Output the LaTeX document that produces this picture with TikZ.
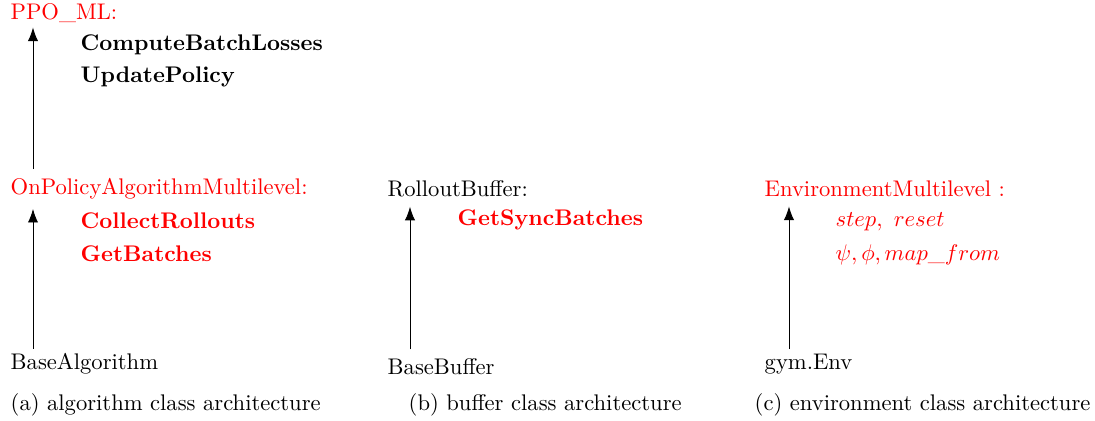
\documentclass[tikz,border=0pt]{standalone}
\usepackage{xcolor}
\usepackage{tikz}
\usetikzlibrary{arrows.meta, positioning}

\begin{document}
\begin{tikzpicture}[
    x=0.01555cm, y=-0.01555cm,
    cls/.style={anchor=west, inner sep=1pt, font=\normalsize},
    meth/.style={anchor=west, inner sep=1pt, font=\normalsize\bfseries},
    subcap/.style={anchor=west, inner sep=1pt, font=\normalsize},
    arr/.style={-{Latex[length=6pt, width=4.5pt]}, thin, shorten >=3pt, shorten <=1pt},
]
    \useasboundingbox (0,0) rectangle (1095,421);

    % (a) algorithm
    \node[cls, text=red] (ppo) at (8,13) {PPO\_ML:};
    \node[meth] (losses) at (78,45) {ComputeBatchLosses};
    \node[meth] (update) at (78,77) {UpdatePolicy};
    \node[cls, text=red] (onpol) at (8,189) {OnPolicyAlgorithmMultilevel:};
    \node[meth, text=red] (collect) at (78,221) {CollectRollouts};
    \node[meth, text=red] (batches) at (78,254) {GetBatches};
    \node[cls] (basealg) at (8,364) {BaseAlgorithm};
    \node[subcap] (capa) at (8,405) {(a) algorithm class architecture};

    \draw[arr, shorten <=3pt, shorten >=1pt] (33,0 |- onpol.north) -- (33,0 |- ppo.south);
    \draw[arr] (33,0 |- basealg.north) -- (33,0 |- onpol.south);

    % (b) buffer
    \node[cls] (rollout) at (385,189) {RolloutBuffer:};
    \node[meth, text=red] (sync) at (455,220) {GetSyncBatches};
    \node[cls] (basebuf) at (385,367) {BaseBuffer};
    \node[subcap] (capb) at (406,405) {(b) buffer class architecture};

    \draw[arr, shorten <=3pt] (410,0 |- basebuf.north) -- (410,0 |- rollout.south);

    % (c) environment
    \node[cls, text=red] (envml) at (762,189) {EnvironmentMultilevel :};
    \node[cls, text=red] (stepreset) at (833,222) {$step,\ reset$};
    \node[cls, text=red] (maps) at (833,255) {$\psi, \phi, map\_from$};
    \node[cls] (gymenv) at (762,364) {gym.Env};
    \node[subcap] (capc) at (752,405) {(c) environment class architecture};

    \draw[arr] (789,0 |- gymenv.north) -- (789,0 |- envml.south);
\end{tikzpicture}
\end{document}
